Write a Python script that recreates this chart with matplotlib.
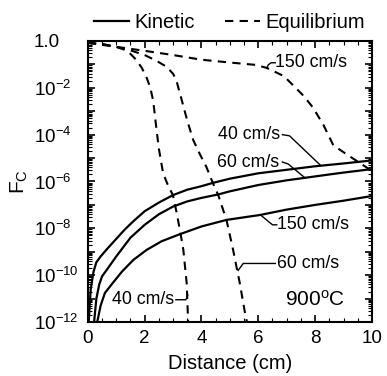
import numpy as np
import matplotlib
matplotlib.use('Agg')
import matplotlib.pyplot as plt
from matplotlib.ticker import FixedLocator, NullFormatter, MultipleLocator

plt.rcParams['font.family'] = ['Liberation Sans', 'DejaVu Sans']
plt.rcParams['mathtext.fontset'] = 'custom'
plt.rcParams['mathtext.rm'] = 'Liberation Sans'
plt.rcParams['mathtext.it'] = 'Liberation Sans:italic'

# kinetic (solid), log10 of Fc
kin_x40 = [0.03, 0.1, 0.2, 0.3, 0.45, 0.7, 1.0, 1.3, 1.6, 2.0, 2.5, 3.0, 3.5, 4.0, 4.4, 5.0, 6.0, 7.0, 8.0, 9.0, 10.0]
kin_y40 = [-12.0, -10.6, -9.85, -9.45, -9.2, -8.85, -8.45, -8.05, -7.7, -7.27, -6.9, -6.58, -6.35, -6.2, -6.06, -5.88, -5.65, -5.5, -5.35, -5.23, -5.1]
kin_x60 = [0.22, 0.3, 0.4, 0.5, 0.65, 1.0, 1.5, 2.0, 2.5, 3.0, 3.5, 4.0, 4.6, 5.0, 6.0, 7.0, 7.6, 8.5, 9.0, 10.0]
kin_y60 = [-12.0, -11.0, -10.4, -10.05, -9.8, -9.2, -8.4, -7.85, -7.4, -7.07, -6.85, -6.7, -6.55, -6.42, -6.15, -5.95, -5.85, -5.7, -5.62, -5.47]
kin_x150 = [0.33, 0.45, 0.6, 0.88, 1.2, 1.6, 2.07, 2.6, 3.24, 4.0, 4.88, 6.06, 7.0, 8.0, 9.0, 10.0]
kin_y150 = [-12.0, -11.3, -10.76, -10.33, -9.85, -9.35, -8.92, -8.55, -8.25, -7.92, -7.64, -7.43, -7.2, -7.0, -6.82, -6.62]

# equilibrium (dashed), log10 of Fc
eq_x40 = [0.0, 0.5, 1.0, 1.3, 1.5, 1.7, 1.9, 2.07, 2.2, 2.3, 2.4, 2.5, 2.65, 2.8, 3.0, 3.12, 3.24, 3.36, 3.48, 3.53]
eq_y40 = [-0.08, -0.13, -0.25, -0.38, -0.55, -0.8, -1.15, -1.57, -2.0, -2.55, -3.6, -4.6, -5.65, -6.1, -6.6, -7.3, -8.07, -8.9, -10.35, -12.0]
eq_x60 = [0.0, 0.5, 1.0, 1.5, 2.0, 2.42, 2.77, 3.0, 3.12, 3.3, 3.5, 3.71, 3.95, 4.17, 4.4, 4.59, 4.88, 5.11, 5.35, 5.53, 5.6]
eq_y60 = [-0.08, -0.13, -0.25, -0.4, -0.6, -0.85, -1.1, -1.4, -1.7, -2.5, -3.4, -4.23, -4.85, -5.37, -6.06, -6.58, -7.64, -8.9, -10.35, -11.6, -12.0]
eq_x150 = [0.0, 1.0, 2.0, 3.0, 4.0, 5.0, 5.9, 6.3, 6.9, 7.3, 7.6, 7.93, 8.3, 8.64, 9.0, 9.5, 10.0]
eq_y150 = [-0.08, -0.25, -0.42, -0.6, -0.8, -0.92, -1.02, -1.15, -1.5, -1.98, -2.35, -2.85, -3.6, -4.45, -4.75, -5.15, -5.55]

ytick_exp = [0, -1, -2, -3, -4, -5, -6, -7, -8, -9, -10, -11, -12]
ytick_lab = ['1.0', '', '10$^{-2}$', '', '10$^{-4}$', '', '10$^{-6}$', '', '10$^{-8}$', '',
             '10$^{-10}$', '', '10$^{-12}$']
xticks = [0, 2, 4, 6, 8, 10]

fig = plt.figure(figsize=(3.87, 3.76), dpi=100)
ax = fig.add_axes([0.227, 0.1436, 0.734, 0.7474])

lw = 1.6
k1, = ax.plot(kin_x40, 10**np.array(kin_y40), 'k-', lw=lw)
ax.plot(kin_x60, 10**np.array(kin_y60), 'k-', lw=lw)
ax.plot(kin_x150, 10**np.array(kin_y150), 'k-', lw=lw)
dash = (4, 3)
e1, = ax.plot(eq_x40, 10**np.array(eq_y40), 'k--', lw=1.5, dashes=dash)
ax.plot(eq_x60, 10**np.array(eq_y60), 'k--', lw=1.5, dashes=dash)
ax.plot(eq_x150, 10**np.array(eq_y150), 'k--', lw=1.5, dashes=dash)

ax.set_yscale('log')
ax.set_xlim(0, 10)
ax.set_ylim(1e-12, 1.0)
ax.set_xticks(xticks)
ax.xaxis.set_minor_locator(MultipleLocator(0.5))
ax.set_yticks([10.0**e for e in ytick_exp])
ax.set_yticklabels(ytick_lab)
minors = [m * 10.0**e for e in range(-12, 0) for m in range(2, 10)]
ax.yaxis.set_minor_locator(FixedLocator(minors))
ax.yaxis.set_minor_formatter(NullFormatter())
ax.tick_params(which='both', direction='in', top=True, right=True, labelsize=13.5)
ax.tick_params(which='major', length=5, width=1.2)
ax.tick_params(which='minor', length=3, width=0.8)
ax.tick_params(axis='y', which='major', pad=39)
ax.tick_params(axis='x', which='major', pad=6)
for lab in ax.get_yticklabels():
    lab.set_horizontalalignment('left')
for s in ax.spines.values():
    s.set_linewidth(1.5)

ax.set_xlabel('Distance (cm)', fontsize=14.5, labelpad=5)
ax.set_ylabel('F$_\\mathrm{C}$', fontsize=15, labelpad=3)

fs = 12.8
# annotations: label text with short leader lines
ax.text(6.6, 10**-0.93, '150 cm/s', fontsize=fs, va='center', ha='left')
ax.plot([6.3, 6.35, 6.45, 6.6], [10**-1.17, 10**-1.02, 10**-0.93, 10**-0.93], 'k-', lw=1)
ax.text(4.58, 10**-4.0, '40 cm/s', fontsize=fs, va='center', ha='left')
ax.plot([6.85, 7.1, 8.2], [10**-4.0, 10**-4.05, 10**-5.32], 'k-', lw=1)
ax.text(4.55, 10**-5.17, '60 cm/s', fontsize=fs, va='center', ha='left')
ax.plot([6.85, 7.05, 7.65], [10**-5.17, 10**-5.25, 10**-5.85], 'k-', lw=1)
ax.text(6.65, 10**-7.85, '150 cm/s', fontsize=fs, va='center', ha='left')
ax.plot([6.65, 6.5, 6.08], [10**-7.85, 10**-7.85, 10**-7.43], 'k-', lw=1)
ax.text(6.65, 10**-9.5, '60 cm/s', fontsize=fs, va='center', ha='left')
ax.plot([6.6, 5.47, 5.29], [10**-9.5, 10**-9.5, 10**-9.8], 'k-', lw=1)
ax.text(0.85, 10**-11.05, '40 cm/s', fontsize=fs, va='center', ha='left')
ax.plot([3.1, 3.45, 3.52], [10**-11.05, 10**-11.05, 10**-10.85], 'k-', lw=1)
ax.text(9.05, 10**-11.05, '900$^\\mathrm{o}$C', fontsize=15, va='center', ha='right')

fig.legend([k1, e1], ['Kinetic', 'Equilibrium'], loc='center', bbox_to_anchor=(0.594, 0.941),
           ncol=2, frameon=False, fontsize=14.5, handlelength=1.7, handletextpad=0.3,
           columnspacing=1.5, borderpad=0, borderaxespad=0)

fig.savefig('out.png', dpi=100)
